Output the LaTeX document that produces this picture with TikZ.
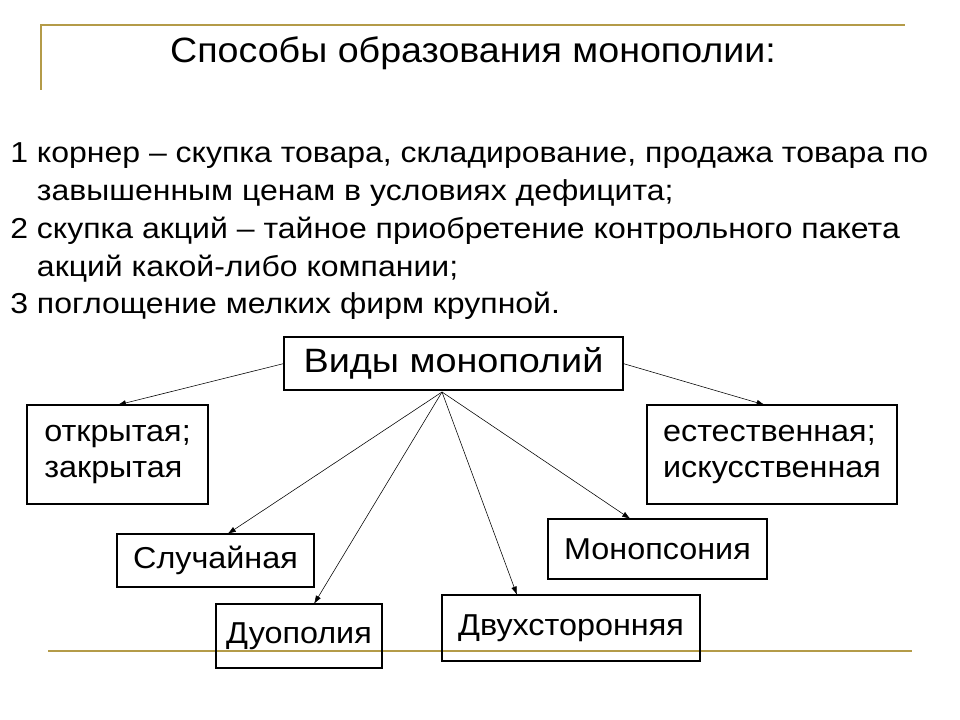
\documentclass[tikz,border=0pt]{standalone}
\usepackage{fontspec}
\setmainfont{Liberation Sans}
\newfontfamily\titlefont[FakeStretch=1.07]{Liberation Sans}
\newfontfamily\listfont[FakeStretch=1.11]{Liberation Sans}
\newfontfamily\boxfont[FakeStretch=1.07]{Liberation Sans}
\newfontfamily\headfont[FakeStretch=1.12]{Liberation Sans}
\usetikzlibrary{arrows.meta, positioning, calc}
\definecolor{goldline}{RGB}{180,155,72}

\begin{document}
\begin{tikzpicture}[
    x=0.025cm, y=-0.025cm,
    box/.style={rectangle, draw=black, line width=0.8pt, inner sep=0pt, align=left, font=\boxfont\fontsize{21.5}{25}\selectfont, outer sep=0pt},
    link/.style={-{Latex[length=6pt,width=4pt]}, line width=0.4pt}
]
    \useasboundingbox (0,0) rectangle (960,720);
    % рамка
    \draw[goldline, line width=1.6pt] (41,90) |- (905,25);
    \draw[goldline, line width=1.6pt] (48,651) -- (912,651);

    \node[anchor=base, inner sep=0pt, font=\titlefont\fontsize{25}{30}\selectfont] (title) at (473,63) {Способы образования монополии:};

    \node[anchor=north west, align=left, inner sep=0pt, font=\listfont\fontsize{20.5}{27}\selectfont] (list) at (10,142)
      {1 корнер – скупка товара, складирование, продажа товара по\\
       \hphantom{1 }завышенным ценам в условиях дефицита;\\
       2 скупка акций – тайное приобретение контрольного пакета\\
       \hphantom{2 }акций какой-либо компании;\\
       3 поглощение мелких фирм крупной.};

    \node[box, line width=2pt, minimum width=339*0.025cm, minimum height=53*0.025cm, align=center, font=\headfont\fontsize{24}{28}\selectfont] (vid) at (453.5,363.5) {Виды монополий};

    \node[box, minimum width=181*0.025cm, minimum height=99*0.025cm] (otkr) at (117.5,454.5) {открытая;\\закрытая};
    \node[box, minimum width=250*0.025cm, minimum height=99*0.025cm] (estes) at (772,454.5) {естественная;\\искусственная};
    \node[box, minimum width=197*0.025cm, minimum height=53*0.025cm] (sluch) at (215.5,560.5) {Случайная};
    \node[box, minimum width=166*0.025cm, minimum height=64*0.025cm] (duop) at (299,636) {Дуополия};
    \node[box, minimum width=258*0.025cm, minimum height=66*0.025cm] (dvuh) at (571,628) {Двухсторонняя};
    \node[box, minimum width=219*0.025cm, minimum height=60*0.025cm] (monops) at (657.5,549) {Монопсония};

    \coordinate (hub) at ($(vid.south)+(-11.5,2)$);
    \draw[link] (vid.west) -- (otkr.north);
    \draw[link] (vid.east) -- ([xshift=-7*0.025cm]estes.north);
    \draw[link] (hub) -- ([xshift=12*0.025cm]sluch.north);
    \draw[link] (hub) -- ([xshift=15*0.025cm]duop.north);
    \draw[link] (hub) -- ([xshift=-54*0.025cm]dvuh.north);
    \draw[link] (hub) -- ([xshift=-27*0.025cm]monops.north);
\end{tikzpicture}
\end{document}
